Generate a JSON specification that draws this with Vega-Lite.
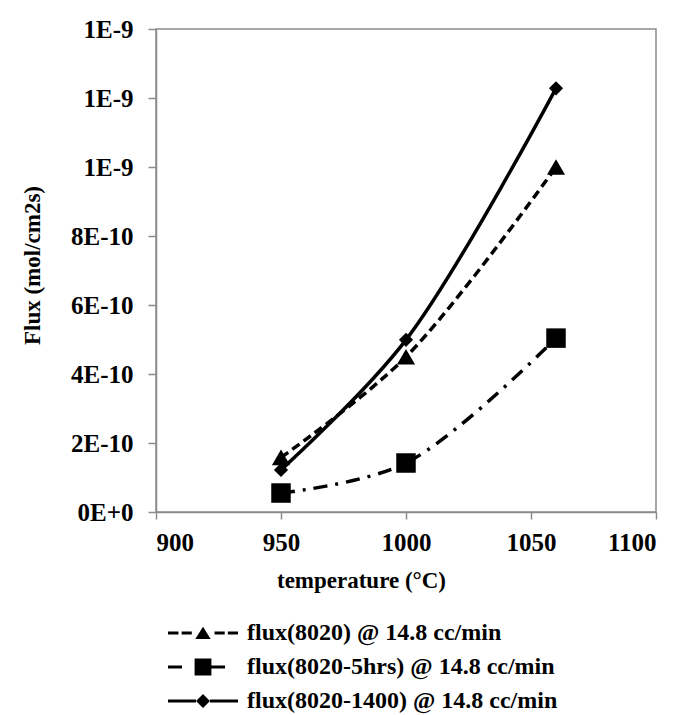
{
  "$schema": "https://vega.github.io/schema/vega-lite/v6.json",
  "width": 500,
  "height": 483,
  "autosize": {"type": "none"},
  "padding": {"left": 156, "top": 29, "right": 43, "bottom": 203},
  "background": "white",
  "config": {
    "view": {"stroke": "#8c8c8c", "strokeWidth": 1.5},
    "font": "Liberation Serif",
    "axis": {
      "labelFont": "Liberation Serif", "labelFontWeight": "bold", "labelFontSize": 25, "labelColor": "black",
      "titleFont": "Liberation Serif", "titleFontWeight": "bold", "titleFontSize": 23, "titleColor": "black",
      "domainColor": "#8c8c8c", "domainWidth": 1.5, "tickColor": "#8c8c8c", "tickWidth": 1.5,
      "grid": false
    }
  },
  "data": {
    "values": [
      {"series": "flux(8020) @ 14.8 cc/min", "temperature": 950, "flux": 1.58e-10},
      {"series": "flux(8020) @ 14.8 cc/min", "temperature": 1000, "flux": 4.5e-10},
      {"series": "flux(8020) @ 14.8 cc/min", "temperature": 1060, "flux": 1.0e-9},
      {"series": "flux(8020-5hrs) @ 14.8 cc/min", "temperature": 950, "flux": 5.5e-11},
      {"series": "flux(8020-5hrs) @ 14.8 cc/min", "temperature": 1000, "flux": 1.42e-10},
      {"series": "flux(8020-5hrs) @ 14.8 cc/min", "temperature": 1060, "flux": 5.04e-10},
      {"series": "flux(8020-1400) @ 14.8 cc/min", "temperature": 950, "flux": 1.22e-10},
      {"series": "flux(8020-1400) @ 14.8 cc/min", "temperature": 1000, "flux": 4.99e-10},
      {"series": "flux(8020-1400) @ 14.8 cc/min", "temperature": 1060, "flux": 1.228e-9}
    ]
  },
  "encoding": {
    "x": {
      "field": "temperature", "type": "quantitative",
      "scale": {"domain": [900, 1100], "nice": false, "zero": false},
      "axis": {
        "values": [900, 950, 1000, 1050, 1100],
        "format": "d",
        "tickSize": 7, "labelPadding": 11,
        "title": "temperature (°C)",
        "titleX": 205, "titleY": 75, "titleBaseline": "alphabetic", "titleAlign": "center"
      }
    },
    "y": {
      "field": "flux", "type": "quantitative",
      "scale": {"domain": [0, 1.4e-9], "nice": false},
      "axis": {
        "values": [0, 2e-10, 4e-10, 6e-10, 8e-10, 1e-9, 1.2e-9, 1.4e-9],
        "labelExpr": "datum.value == 0 ? '0E+0' : (datum.value < 9.9e-10 ? format(datum.value * 1e10, '.0f') + 'E-10' : format(datum.value * 1e9, '.0f') + 'E-9')",
        "tickSize": 8, "labelPadding": 15,
        "title": "Flux (mol/cm2s)",
        "titleX": -117, "titleY": 236, "titleAngle": -90, "titleBaseline": "alphabetic", "titleAlign": "center"
      }
    }
  },
  "layer": [
    {
      "transform": [{"filter": "datum.series == 'flux(8020) @ 14.8 cc/min'"}],
      "mark": {"type": "line", "interpolate": "catmull-rom", "strokeWidth": 3.5, "color": "black", "strokeDash": [9, 5]},
      "encoding": {}
    },
    {
      "transform": [{"filter": "datum.series == 'flux(8020-5hrs) @ 14.8 cc/min'"}],
      "mark": {"type": "line", "interpolate": "catmull-rom", "strokeWidth": 3.5, "color": "black", "strokeDash": [14, 8, 3, 8]},
      "encoding": {}
    },
    {
      "transform": [{"filter": "datum.series == 'flux(8020-1400) @ 14.8 cc/min'"}],
      "mark": {"type": "line", "interpolate": "catmull-rom", "strokeWidth": 3.5, "color": "black"},
      "encoding": {}
    },
    {
      "transform": [{"filter": "datum.series == 'flux(8020) @ 14.8 cc/min'"}],
      "mark": {"type": "point", "shape": "triangle-up", "filled": true, "color": "black", "opacity": 1, "size": 330}
    },
    {
      "transform": [{"filter": "datum.series == 'flux(8020-5hrs) @ 14.8 cc/min'"}],
      "mark": {"type": "point", "shape": "square", "filled": true, "color": "black", "opacity": 1, "size": 380}
    },
    {
      "transform": [{"filter": "datum.series == 'flux(8020-1400) @ 14.8 cc/min'"}],
      "mark": {"type": "point", "shape": "diamond", "filled": true, "color": "black", "opacity": 1, "size": 200}
    },
    {
      "mark": {"type": "point", "filled": true, "color": "black", "opacity": 0},
      "encoding": {
        "shape": {
          "field": "series", "type": "nominal",
          "scale": {
            "domain": ["flux(8020) @ 14.8 cc/min", "flux(8020-5hrs) @ 14.8 cc/min", "flux(8020-1400) @ 14.8 cc/min"],
            "range": [
              "M-5,-0.22L-3.5,-0.22L-3.5,0.22L-5,0.22Z M-3.05,-0.22L-1.6,-0.22L-1.6,0.22L-3.05,0.22Z M1.65,-0.22L3.1,-0.22L3.1,0.22L1.65,0.22Z M3.55,-0.22L5,-0.22L5,0.22L3.55,0.22Z M-1.1,0.85L0,-0.9L1.1,0.85Z",
              "M-5,-0.22L-3,-0.22L-3,0.22L-5,0.22Z M-1.2,-1.2L1.2,-1.2L1.2,1.2L-1.2,1.2Z M1.2,-0.22L3.15,-0.22L3.15,0.22L1.2,0.22Z",
              "M-5,-0.22L-1,-0.22L-1,0.22L-5,0.22Z M1,-0.22L5,-0.22L5,0.22L1,0.22Z M0,-1L1,0L0,1L-1,0Z"
            ]
          },
          "legend": {
            "title": null,
            "orient": "none",
            "legendX": 35,
            "legendY": 592,
            "padding": 0,
            "symbolSize": 196,
            "symbolStrokeWidth": 0,
            "symbolFillColor": "black",
            "symbolOpacity": 1,
            "labelOffset": 32,
            "rowPadding": 10,
            "labelFont": "Liberation Serif",
            "labelFontWeight": "bold",
            "labelFontSize": 24,
            "labelColor": "black",
            "labelLimit": 500,
            "encode": {
              "symbols": {
                "update": {
                  "fill": {"value": "black"},
                  "opacity": {"value": 1},
                  "fillOpacity": {"value": 1}
                }
              }
            }
          }
        }
      }
    }
  ]
}
